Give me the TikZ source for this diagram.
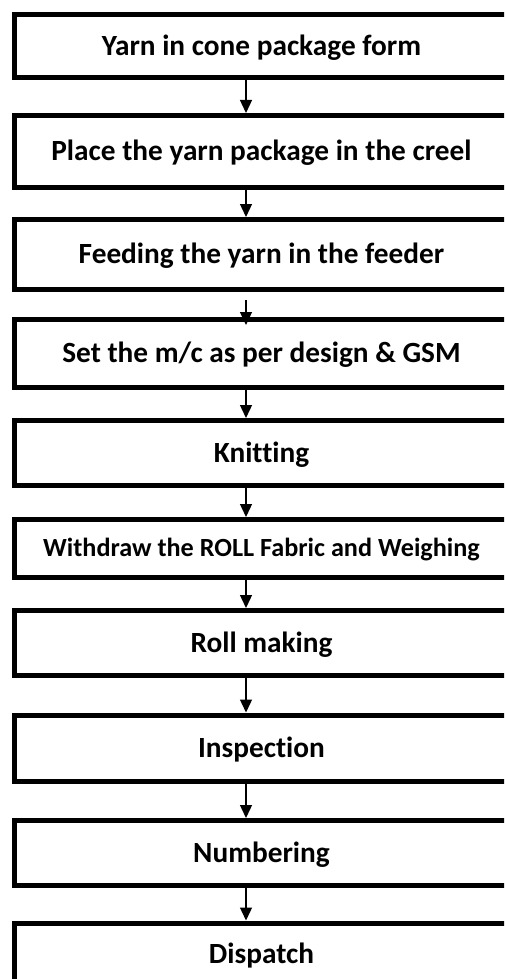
\documentclass[tikz,border=0pt]{standalone}
\usepackage{fontspec}
\setmainfont[Ligatures=NoCommon]{Carlito}
\usetikzlibrary{arrows.meta}
\begin{document}
\begin{tikzpicture}[x=1pt,y=-1pt,
  stepbox/.style={draw=black, line width=5pt, fill=white, minimum width=494pt,
    inner sep=0pt, font=\bfseries\fontsize{29.3}{32}\selectfont,
    text height=18.9pt, text depth=0pt},
  flow/.style={draw=black, line width=1.3pt,
    -{Triangle[width=12pt,length=13pt]}}]
\useasboundingbox (0,0) rectangle (504,979);
\begin{scope}
\clip (0,0) rectangle (504,979);
% process steps, top to bottom
\node[stepbox, minimum height=63pt]   (b1)  at (261.5,46)     {Yarn in cone package form};
\node[stepbox, minimum height=72pt]   (b2)  at (261.5,151.5)  {Place the yarn package in the creel};
\node[stepbox, minimum height=70pt]   (b3)  at (261.5,254.5)  {Feeding the yarn in the feeder};
\node[stepbox, minimum height=68pt]   (b4)  at (261.5,353.5)  {Set the m/c as per design \& GSM};
\node[stepbox, minimum height=65pt]   (b5)  at (261.5,453)    {Knitting};
\node[stepbox, minimum height=58pt, font=\bfseries\fontsize{26.2}{29}\selectfont, text height=16.9pt]
                                      (b6)  at (261.5,548.5)  {Withdraw the ROLL Fabric and Weighing};
\node[stepbox, minimum height=64.5pt] (b7)  at (261.5,642.75) {Roll making};
\node[stepbox, minimum height=66.5pt] (b8)  at (261.5,748.25) {Inspection};
\node[stepbox, minimum height=65pt]   (b9)  at (261.5,853)    {Numbering};
\node[stepbox, minimum height=62pt]   (b10) at (261.5,954)    {Dispatch};
% connectors run down a common vertical line
\coordinate (ax) at (246,0);
\draw[flow] (b1.south -| ax) -- (b2.north -| ax);
\draw[flow] (b2.south -| ax) -- (b3.north -| ax);
\draw[flow, shorten <=8pt, shorten >=-8pt] (b3.south -| ax) -- (b4.north -| ax);
\draw[flow] (b4.south -| ax) -- (b5.north -| ax);
\draw[flow] (b5.south -| ax) -- (b6.north -| ax);
\draw[flow] (b6.south -| ax) -- (b7.north -| ax);
\draw[flow] (b7.south -| ax) -- (b8.north -| ax);
\draw[flow] (b8.south -| ax) -- (b9.north -| ax);
\draw[flow] (b9.south -| ax) -- (b10.north -| ax);
\end{scope}
\end{tikzpicture}
\end{document}
